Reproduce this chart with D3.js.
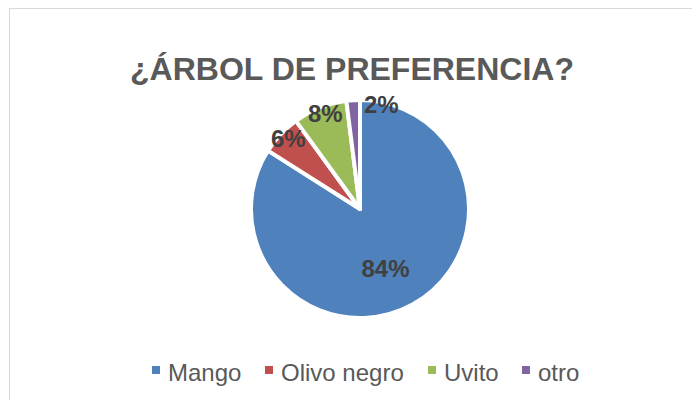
<!DOCTYPE html>
<html>
<head>
<meta charset="utf-8">
<script src="https://cdn.jsdelivr.net/npm/d3@7"></script>
<style>
  body { margin: 0; background: #fff; }
  svg { display: block; font-family: "Liberation Sans", Arial, sans-serif; }
</style>
</head>
<body>
<svg width="692" height="400"></svg>
<script>
var categories = ["Mango", "Olivo negro", "Uvito", "otro"];
var values = [84, 6, 8, 2];
var colors = ["#4F81BD", "#C0504D", "#9BBB59", "#8064A2"];

var svg = d3.select("svg"),
    width = +svg.attr("width"),
    height = +svg.attr("height");

// chart area border
svg.append("rect")
    .attr("x", 9.5).attr("y", 8.5)
    .attr("width", width).attr("height", height)
    .attr("fill", "none").attr("stroke", "#D9D9D9").attr("stroke-width", 1);

svg.append("text")
    .attr("x", 352).attr("y", 80)
    .attr("text-anchor", "middle")
    .attr("font-size", 32).attr("font-weight", "bold")
    .attr("fill", "#595959")
    .text("¿ÁRBOL DE PREFERENCIA?");

var cx = 360, cy = 209, R = 109;

var data = categories.map(function (c, i) { return { name: c, value: values[i], color: colors[i] }; });

var pie = d3.pie().sort(null).value(function (d) { return d.value; });
var arc = d3.arc().innerRadius(0).outerRadius(R);

var g = svg.append("g").attr("transform", "translate(" + cx + "," + cy + ")");

var arcs = pie(data);

g.selectAll("path")
    .data(arcs)
    .enter().append("path")
    .attr("d", arc)
    .attr("fill", function (d) { return d.data.color; })
    .attr("stroke", "#fff")
    .attr("stroke-width", 4)
    .attr("stroke-linejoin", "round");

var total = d3.sum(values);

g.selectAll("text.lbl")
    .data(arcs)
    .enter().append("text")
    .attr("class", "lbl")
    .attr("font-size", 24).attr("font-weight", "bold")
    .attr("fill", "#404040")
    .attr("dy", "0.35em")
    .attr("text-anchor", function (d) { return d.data.value < 5 ? "start" : "middle"; })
    .attr("transform", function (d) {
        var a, r;
        if (d.data.value < 5) { a = d.endAngle; r = R * 0.96; return "translate(" + (Math.sin(a) * r + 4) + "," + (-Math.cos(a) * r) + ")"; }
        a = (d.startAngle + d.endAngle) / 2;
        if (d.data.value > 50) {
            r = R * 0.6;
            return "translate(" + (Math.sin(a) * r - 6) + "," + (-Math.cos(a) * r + 2) + ")";
        }
        r = R * 0.94;
        return "translate(" + (Math.sin(a) * r + 3) + "," + (-Math.cos(a) * r) + ")";
    })
    .text(function (d) { return Math.round(d.data.value / total * 100) + "%"; });

// legend
var legendX = [152, 265, 428, 522];
var leg = svg.selectAll("g.leg")
    .data(data)
    .enter().append("g")
    .attr("class", "leg")
    .attr("transform", function (d, i) { return "translate(" + legendX[i] + ",373)"; });

leg.append("rect")
    .attr("x", 0).attr("y", -7)
    .attr("width", 8).attr("height", 8)
    .attr("fill", function (d) { return d.color; });

leg.append("text")
    .attr("x", 16).attr("dy", "0.35em")
    .attr("font-size", 24)
    .attr("fill", "#595959")
    .text(function (d) { return d.name; });
</script>
</body>
</html>
